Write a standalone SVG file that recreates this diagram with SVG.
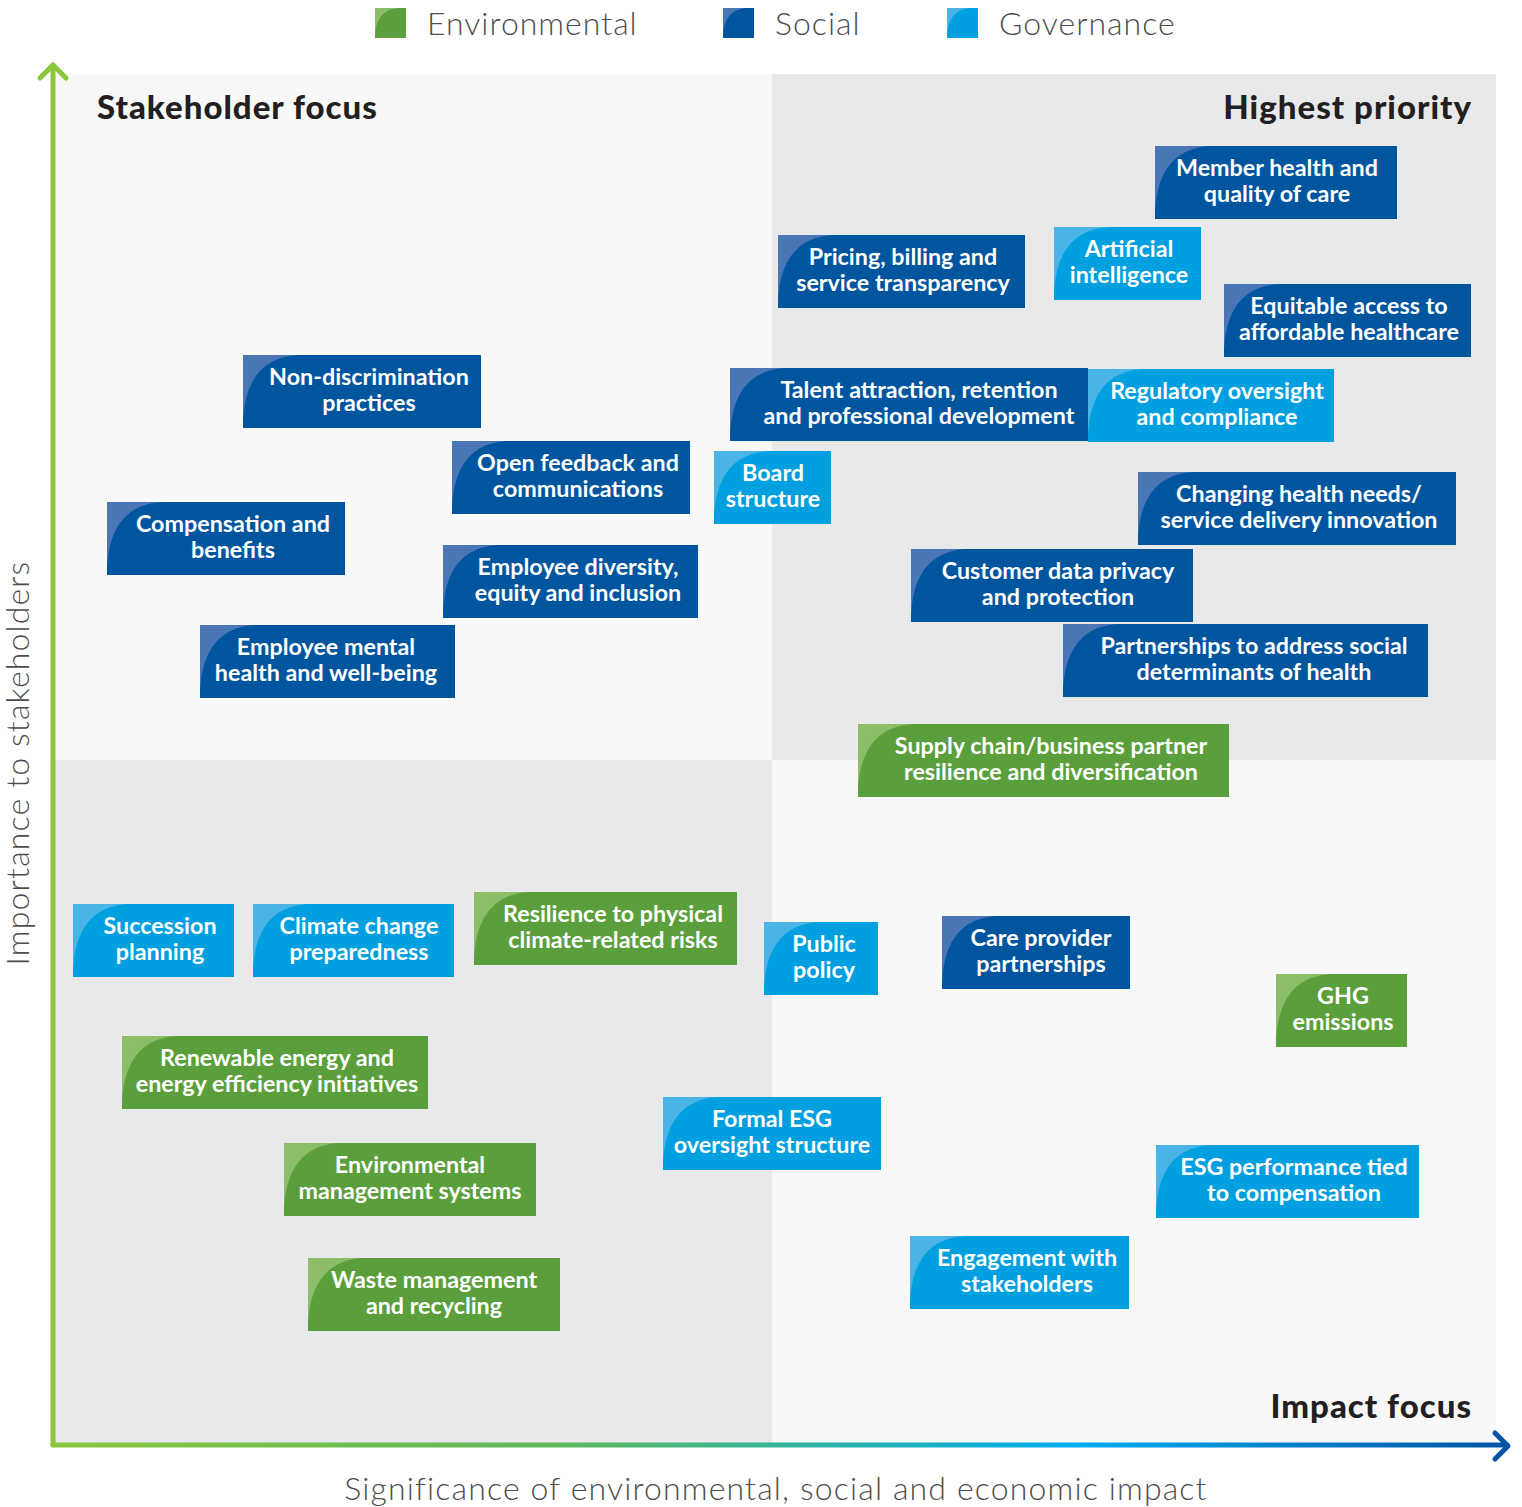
<svg xmlns="http://www.w3.org/2000/svg" width="1522" height="1507" viewBox="0 0 1522 1507">
  <style>
    .soc { fill: #00559f; }
    .soc-w { fill: #4b76b6; }
    .gov { fill: #009fdf; }
    .gov-w { fill: #4bb4e7; }
    .env { fill: #5a9f3b; }
    .env-w { fill: #8cbd6b; }
    .lbl { font-family: "Lato", "Liberation Sans", sans-serif; font-weight: 700; font-size: 23.3px; fill: #ffffff; text-anchor: middle; }
    .title { font-family: "Lato", "Liberation Sans", sans-serif; font-weight: 900; font-size: 33px; letter-spacing: 1px; fill: #231f20; }
    .legend { font-family: "Lato", "Liberation Sans", sans-serif; font-weight: 300; font-size: 32px; letter-spacing: 1px; fill: #4d4d4f; }
    .axis-lbl { font-family: "Lato", "Liberation Sans", sans-serif; font-weight: 300; font-size: 32px; letter-spacing: 1.15px; fill: #4d4d4f; }
  </style>
  <defs>
    <linearGradient id="xaxis" x1="53" y1="0" x2="1510" y2="0" gradientUnits="userSpaceOnUse">
      <stop offset="0" stop-color="#8cc63f"/>
      <stop offset="0.35" stop-color="#5cb85c"/>
      <stop offset="0.7" stop-color="#00aeef"/>
      <stop offset="1" stop-color="#0054a4"/>
    </linearGradient>
    <!-- lighter corner highlight shared by every box -->
    <path id="wedge" d="M0,0 H55 Q3,3 0,66 Z"/>
  </defs>

  <rect width="1522" height="1507" fill="#ffffff"/>

  <!-- quadrants -->
  <g id="quadrants">
    <rect x="55" y="74" width="717" height="686" fill="#f8f8f8"/>
    <rect x="772" y="74" width="724" height="686" fill="#e8e9eb"/>
    <rect x="55" y="760" width="717" height="684" fill="#e8e9eb"/>
    <rect x="772" y="760" width="724" height="684" fill="#f8f8f8"/>
  </g>

  <!-- legend -->
  <g id="legend">
    <rect x="375" y="8" width="31" height="30" class="env"/>
    <path d="M375,8 H398 Q376,10 375,36 Z" class="env-w"/>
    <text x="427" y="35" class="legend">Environmental</text>
    <rect x="723" y="8" width="31" height="30" class="soc"/>
    <path d="M723,8 H746 Q724,10 723,36 Z" class="soc-w"/>
    <text x="775" y="35" class="legend">Social</text>
    <rect x="947" y="8" width="31" height="30" class="gov"/>
    <path d="M947,8 H970 Q948,10 947,36 Z" class="gov-w"/>
    <text x="999" y="35" class="legend">Governance</text>
  </g>

  <!-- quadrant titles -->
  <text x="97" y="119" class="title">Stakeholder focus</text>
  <text x="1472" y="119" class="title" text-anchor="end">Highest priority</text>
  <text x="1472" y="1418" class="title" text-anchor="end">Impact focus</text>

  <!-- axes -->
  <g id="connectors" fill="none" stroke-linecap="round" stroke-linejoin="round" stroke-width="5">
    <path d="M53,1445 V65" stroke="#8cc63f"/>
    <path d="M40,78 L53,65 L66,78" stroke="#8cc63f"/>
    <path d="M53,1445 H1507" stroke="url(#xaxis)"/>
    <path d="M1495,1433 L1508,1446 L1495,1459" stroke="#0054a4"/>
  </g>

  <text x="776" y="1500" class="axis-lbl" text-anchor="middle">Significance of environmental, social and economic impact</text>
  <text transform="translate(29,763) rotate(-90)" class="axis-lbl" text-anchor="middle">Importance to stakeholders</text>

  <!-- topic boxes -->
  <g id="n-member-health" transform="translate(1155,146)">
    <rect width="242" height="73" class="soc"/><use href="#wedge" class="soc-w"/>
    <text x="122" y="30" class="lbl">Member health and</text><text x="122" y="56" class="lbl">quality of care</text>
  </g>
  <g id="n-ai" transform="translate(1054,227)">
    <rect width="147" height="73" class="gov"/><use href="#wedge" class="gov-w"/>
    <text x="75" y="30" class="lbl">Artificial</text><text x="75" y="56" class="lbl">intelligence</text>
  </g>
  <g id="n-pricing" transform="translate(778,235)">
    <rect width="247" height="73" class="soc"/><use href="#wedge" class="soc-w"/>
    <text x="125" y="30" class="lbl">Pricing, billing and</text><text x="125" y="56" class="lbl">service transparency</text>
  </g>
  <g id="n-equitable-access" transform="translate(1224,284)">
    <rect width="247" height="73" class="soc"/><use href="#wedge" class="soc-w"/>
    <text x="125" y="30" class="lbl">Equitable access to</text><text x="125" y="56" class="lbl">affordable healthcare</text>
  </g>
  <g id="n-non-discrimination" transform="translate(243,355)">
    <rect width="238" height="73" class="soc"/><use href="#wedge" class="soc-w"/>
    <text x="126" y="30" class="lbl">Non-discrimination</text><text x="126" y="56" class="lbl">practices</text>
  </g>
  <g id="n-talent" transform="translate(730,368)">
    <rect width="358" height="73" class="soc"/><use href="#wedge" class="soc-w"/>
    <text x="189" y="30" class="lbl">Talent attraction, retention</text><text x="189" y="56" class="lbl">and professional development</text>
  </g>
  <g id="n-regulatory" transform="translate(1088,369)">
    <rect width="246" height="73" class="gov"/><use href="#wedge" class="gov-w"/>
    <text x="129" y="30" class="lbl">Regulatory oversight</text><text x="129" y="56" class="lbl">and compliance</text>
  </g>
  <g id="n-open-feedback" transform="translate(452,441)">
    <rect width="238" height="73" class="soc"/><use href="#wedge" class="soc-w"/>
    <text x="126" y="30" class="lbl">Open feedback and</text><text x="126" y="56" class="lbl">communications</text>
  </g>
  <g id="n-board" transform="translate(714,451)">
    <rect width="117" height="73" class="gov"/><use href="#wedge" class="gov-w"/>
    <text x="59" y="30" class="lbl">Board</text><text x="59" y="56" class="lbl">structure</text>
  </g>
  <g id="n-changing-health" transform="translate(1138,472)">
    <rect width="318" height="73" class="soc"/><use href="#wedge" class="soc-w"/>
    <text x="161" y="30" class="lbl">Changing health needs/</text><text x="161" y="56" class="lbl">service delivery innovation</text>
  </g>
  <g id="n-compensation" transform="translate(107,502)">
    <rect width="238" height="73" class="soc"/><use href="#wedge" class="soc-w"/>
    <text x="126" y="30" class="lbl">Compensation and</text><text x="126" y="56" class="lbl">benefits</text>
  </g>
  <g id="n-diversity" transform="translate(443,545)">
    <rect width="255" height="73" class="soc"/><use href="#wedge" class="soc-w"/>
    <text x="135" y="30" class="lbl">Employee diversity,</text><text x="135" y="56" class="lbl">equity and inclusion</text>
  </g>
  <g id="n-data-privacy" transform="translate(911,549)">
    <rect width="282" height="73" class="soc"/><use href="#wedge" class="soc-w"/>
    <text x="147" y="30" class="lbl">Customer data privacy</text><text x="147" y="56" class="lbl">and protection</text>
  </g>
  <g id="n-mental-health" transform="translate(200,625)">
    <rect width="255" height="73" class="soc"/><use href="#wedge" class="soc-w"/>
    <text x="126" y="30" class="lbl">Employee mental</text><text x="126" y="56" class="lbl">health and well-being</text>
  </g>
  <g id="n-partnerships" transform="translate(1063,624)">
    <rect width="365" height="73" class="soc"/><use href="#wedge" class="soc-w"/>
    <text x="191" y="30" class="lbl">Partnerships to address social</text><text x="191" y="56" class="lbl">determinants of health</text>
  </g>
  <g id="n-supply-chain" transform="translate(858,724)">
    <rect width="371" height="73" class="env"/><use href="#wedge" class="env-w"/>
    <text x="193" y="30" class="lbl">Supply chain/business partner</text><text x="193" y="56" class="lbl">resilience and diversification</text>
  </g>
  <g id="n-succession" transform="translate(73,904)">
    <rect width="161" height="73" class="gov"/><use href="#wedge" class="gov-w"/>
    <text x="87" y="30" class="lbl">Succession</text><text x="87" y="56" class="lbl">planning</text>
  </g>
  <g id="n-climate-change" transform="translate(253,904)">
    <rect width="201" height="73" class="gov"/><use href="#wedge" class="gov-w"/>
    <text x="106" y="30" class="lbl">Climate change</text><text x="106" y="56" class="lbl">preparedness</text>
  </g>
  <g id="n-resilience" transform="translate(474,892)">
    <rect width="263" height="73" class="env"/><use href="#wedge" class="env-w"/>
    <text x="139" y="30" class="lbl">Resilience to physical</text><text x="139" y="56" class="lbl">climate-related risks</text>
  </g>
  <g id="n-public-policy" transform="translate(764,922)">
    <rect width="114" height="73" class="gov"/><use href="#wedge" class="gov-w"/>
    <text x="60" y="30" class="lbl">Public</text><text x="60" y="56" class="lbl">policy</text>
  </g>
  <g id="n-care-provider" transform="translate(942,916)">
    <rect width="188" height="73" class="soc"/><use href="#wedge" class="soc-w"/>
    <text x="99" y="30" class="lbl">Care provider</text><text x="99" y="56" class="lbl">partnerships</text>
  </g>
  <g id="n-ghg" transform="translate(1276,974)">
    <rect width="131" height="73" class="env"/><use href="#wedge" class="env-w"/>
    <text x="67" y="30" class="lbl">GHG</text><text x="67" y="56" class="lbl">emissions</text>
  </g>
  <g id="n-renewable" transform="translate(122,1036)">
    <rect width="306" height="73" class="env"/><use href="#wedge" class="env-w"/>
    <text x="155" y="30" class="lbl">Renewable energy and</text><text x="155" y="56" class="lbl">energy efficiency initiatives</text>
  </g>
  <g id="n-formal-esg" transform="translate(663,1097)">
    <rect width="218" height="73" class="gov"/><use href="#wedge" class="gov-w"/>
    <text x="109" y="30" class="lbl">Formal ESG</text><text x="109" y="56" class="lbl">oversight structure</text>
  </g>
  <g id="n-ems" transform="translate(284,1143)">
    <rect width="252" height="73" class="env"/><use href="#wedge" class="env-w"/>
    <text x="126" y="30" class="lbl">Environmental</text><text x="126" y="56" class="lbl">management systems</text>
  </g>
  <g id="n-esg-comp" transform="translate(1156,1145)">
    <rect width="263" height="73" class="gov"/><use href="#wedge" class="gov-w"/>
    <text x="138" y="30" class="lbl">ESG performance tied</text><text x="138" y="56" class="lbl">to compensation</text>
  </g>
  <g id="n-engagement" transform="translate(910,1236)">
    <rect width="219" height="73" class="gov"/><use href="#wedge" class="gov-w"/>
    <text x="117" y="30" class="lbl">Engagement with</text><text x="117" y="56" class="lbl">stakeholders</text>
  </g>
  <g id="n-waste" transform="translate(308,1258)">
    <rect width="252" height="73" class="env"/><use href="#wedge" class="env-w"/>
    <text x="126" y="30" class="lbl">Waste management</text><text x="126" y="56" class="lbl">and recycling</text>
  </g>
</svg>
